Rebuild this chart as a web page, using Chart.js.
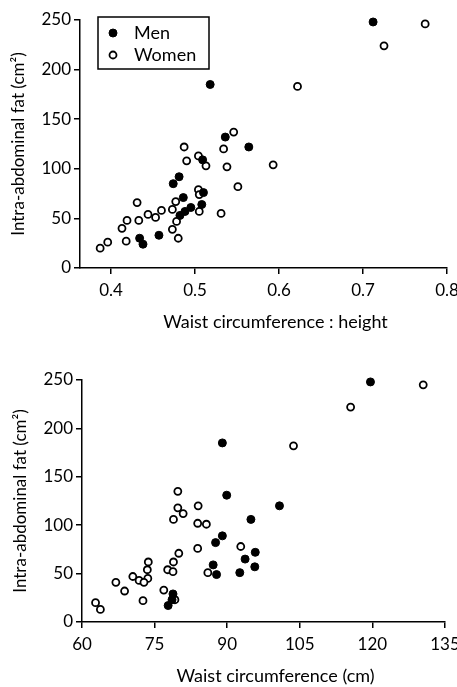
<!DOCTYPE html>
<html><head><meta charset="utf-8">
<script src="https://cdn.jsdelivr.net/npm/chart.js@4.4.1/dist/chart.umd.min.js"></script>
<style>
html,body{margin:0;padding:0;background:#fff;width:457px;height:687px;overflow:hidden;}
canvas{position:absolute;left:0;}
#c1{top:0}
#c2{top:343px}
</style></head><body>
<canvas id="c1" width="457" height="343"></canvas>
<canvas id="c2" width="457" height="344"></canvas>
<script>
// ---------- data ----------
const seriesLabels = ['Men', 'Women'];
const yTicks = [0, 50, 100, 150, 200, 250];
const topXTicks = [0.4, 0.5, 0.6, 0.7, 0.8];
const botXTicks = [60, 75, 90, 105, 120, 135];
const yTitle = 'Intra-abdominal fat (cm²)';
const topXTitle = 'Waist circumference : height';
const botXTitle = 'Waist circumference (cm)';

// Top panel: waist circumference : height vs intra-abdominal fat
const topMenX = [0.712, 0.518, 0.536, 0.564, 0.509, 0.481, 0.474, 0.510, 0.486, 0.508, 0.495, 0.488, 0.482, 0.457, 0.434, 0.438];
const topMenY = [248, 185, 132, 122, 109, 92, 85, 76, 71, 64, 61, 57, 53, 33, 30, 24];
const topWomenX = [0.774, 0.725, 0.622, 0.546, 0.487, 0.534, 0.593, 0.490, 0.504, 0.513, 0.538, 0.551, 0.504, 0.505, 0.477, 0.431, 0.505, 0.473, 0.460, 0.453, 0.444, 0.531, 0.433, 0.419, 0.478, 0.413, 0.473, 0.418, 0.480, 0.396, 0.387];
const topWomenY = [246, 224, 183, 137, 122, 120, 104, 108, 113, 103, 102, 82, 79, 74, 67, 66, 57, 59, 58, 51, 54, 55, 48, 48, 47, 40, 39, 27, 30, 26, 20];

// Bottom panel: waist circumference (cm) vs intra-abdominal fat
const botMenX = [119.6, 89.0, 89.9, 100.8, 94.9, 89.0, 87.6, 95.8, 93.7, 87.1, 95.7, 92.6, 87.8, 78.8, 78.6, 77.8];
const botMenY = [248, 185, 131, 120, 106, 89, 82, 72, 65, 59, 57, 51, 49, 29, 23, 17];
const botWomenX = [130.5, 115.5, 103.7, 79.8, 84.0, 79.8, 80.9, 78.9, 83.9, 85.7, 92.8, 83.9, 80.0, 78.9, 77.7, 78.8, 86.0, 76.9, 79.2, 73.7, 73.5, 70.5, 73.6, 71.8, 72.8, 67.0, 68.8, 72.6, 62.8, 63.8];
const botWomenY = [245, 222, 182, 135, 120, 118, 112, 106, 102, 101, 78, 76, 71, 62, 54, 52, 51, 33, 23, 62, 54, 47, 45, 43, 41, 41, 32, 22, 20, 13];

// ---------- helpers ----------
const FONT = 'Lato, "Open Sans", "DejaVu Sans", sans-serif';
const pts = (xs, ys) => xs.map((x, i) => ({ x: x, y: ys[i] }));

const annot = {
  id: 'annot',
  afterDraw(chart, args, opts) {
    const ctx = chart.ctx, a = chart.chartArea;
    ctx.save();
    ctx.fillStyle = '#000';
    ctx.font = '18px ' + FONT;
    ctx.textAlign = 'center';
    ctx.textBaseline = 'middle';
    ctx.fillText(opts.xTitle, (a.left + a.right) / 2 + 12, a.bottom + opts.titleOffset);
    if (opts.legend) {
      const bx = a.left + 18, by = a.top - 3, bw = 111, bh = 52;
      ctx.lineWidth = 1.5;
      ctx.strokeStyle = '#000';
      ctx.strokeRect(bx, by, bw, bh);
      chart.data.datasets.forEach((ds, i) => {
        const cy = by + 16 + i * 22;
        ctx.beginPath();
        ctx.arc(bx + 15, cy, ds.pointRadius, 0, 2 * Math.PI);
        ctx.fillStyle = ds.pointBackgroundColor;
        ctx.fill();
        ctx.lineWidth = ds.pointBorderWidth;
        ctx.strokeStyle = '#000';
        ctx.stroke();
        ctx.fillStyle = '#000';
        ctx.textAlign = 'left';
        ctx.font = '18px ' + FONT;
        ctx.fillText(ds.label, bx + 36, cy);
      });
    }
    ctx.restore();
  }
};

function datasets(menX, menY, womenX, womenY) {
  return [
    { label: seriesLabels[0], data: pts(menX, menY), pointRadius: 4, pointBorderWidth: 1,
      pointBackgroundColor: '#000', pointBorderColor: '#000', showLine: false, clip: false },
    { label: seriesLabels[1], data: pts(womenX, womenY), pointRadius: 3.5, pointBorderWidth: 1.8,
      pointBackgroundColor: '#fff', pointBorderColor: '#000', showLine: false, clip: false }
  ];
}

function makeChart(id, ds, xMin, xMax, xTicks, xTitle, pad, xHeight, legend) {
  return new Chart(document.getElementById(id), {
    type: 'scatter',
    data: { datasets: ds },
    plugins: [annot],
    options: {
      responsive: false,
      devicePixelRatio: 1,
      animation: false,
      events: [],
      layout: { padding: pad },
      plugins: {
        legend: { display: false },
        tooltip: { enabled: false },
        annot: { xTitle: xTitle, titleOffset: 54, legend: legend }
      },
      scales: {
        x: {
          type: 'linear', min: xMin, max: xMax,
          afterBuildTicks: s => { s.ticks = xTicks.map(v => ({ value: v })); },
          afterFit: s => { s.height = xHeight; s.paddingLeft = 0; s.paddingRight = 0; },
          grid: { display: true, drawOnChartArea: false, drawTicks: true, tickLength: 6, color: '#000', lineWidth: 1.5 },
          border: { display: true, color: '#000', width: 1.5 },
          ticks: { color: '#000', font: { family: FONT, size: 17 }, padding: 6, maxRotation: 0, autoSkip: false,
                   callback: v => String(v) }
        },
        y: {
          type: 'linear', min: 0, max: 250,
          afterBuildTicks: s => { s.ticks = yTicks.map(v => ({ value: v })); },
          afterFit: s => { s.width = 80; s.paddingTop = 0; s.paddingBottom = 0; },
          grid: { display: true, drawOnChartArea: false, drawTicks: true, tickLength: 6, color: '#000', lineWidth: 1.5 },
          border: { display: true, color: '#000', width: 1.5 },
          ticks: { color: '#000', font: { family: FONT, size: 17 }, padding: 3, autoSkip: false,
                   callback: v => String(v) },
          title: { display: true, text: yTitle, color: '#000', font: { family: FONT, size: 17 }, padding: { top: 8, bottom: 0 } }
        }
      }
    }
  });
}

makeChart('c1', datasets(topMenX, topMenY, topWomenX, topWomenY), 0.363, 0.8, topXTicks, topXTitle,
  { left: 0, right: 10, top: 20, bottom: 0 }, 75, true);
makeChart('c2', datasets(botMenX, botMenY, botWomenX, botWomenY), 60, 135, botXTicks, botXTitle,
  { left: 2, right: 12, top: 37, bottom: 0 }, 65, false);
</script>
</body></html>
